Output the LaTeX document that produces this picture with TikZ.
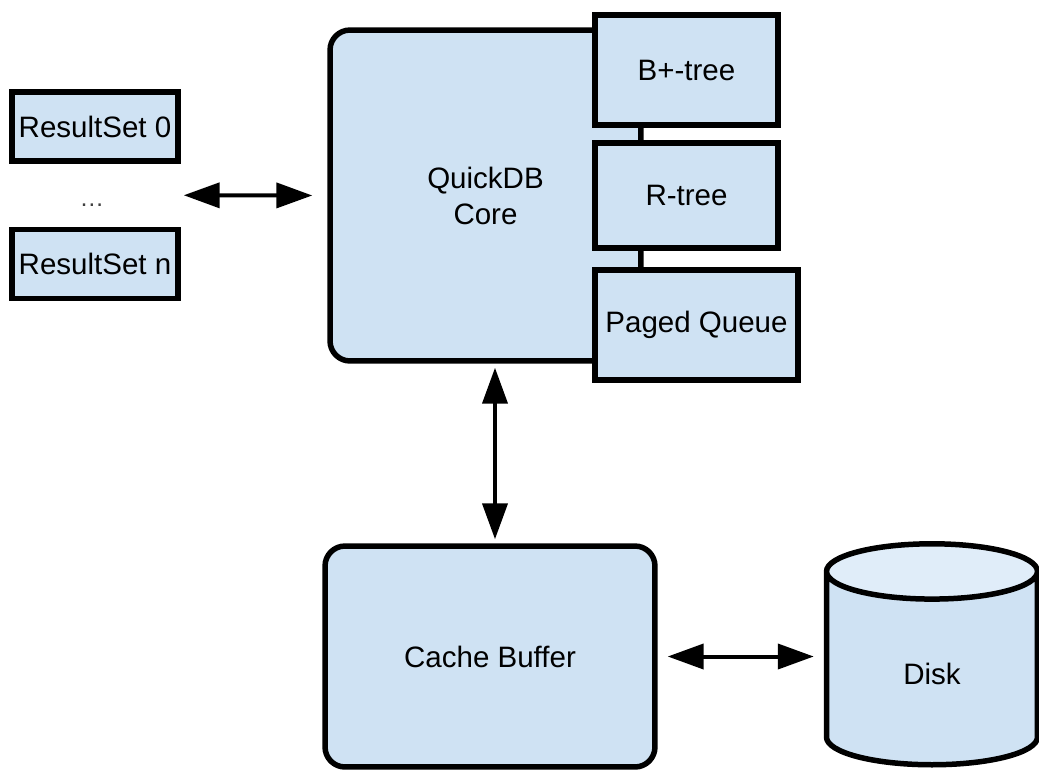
\documentclass[tikz,border=0pt]{standalone}
\usepackage{fontspec}
\setmainfont{Liberation Sans}
\usetikzlibrary{shapes.geometric,arrows.meta,calc}
\definecolor{boxblue}{RGB}{207,226,243}
\definecolor{diskend}{RGB}{224,237,249}

\begin{document}
\begin{tikzpicture}[x=0.02cm,y=-0.02cm,
				every node/.style={font=\fontsize{16.8}{20.5}\selectfont,align=center},
				box/.style={draw,line width=0.11cm,fill=boxblue,inner sep=0pt},
				roundbox/.style={box,rounded corners=0.4cm},
				disk/.style={cylinder,shape border rotate=90,aspect=0.8,draw,line width=0.11cm,
					cylinder uses custom fill,cylinder body fill=boxblue,cylinder end fill=diskend},
				biarrow/.style={line width=0.08cm,
					{Triangle[length=0.72cm,width=0.5cm]}-{Triangle[length=0.72cm,width=0.5cm]}}]
\useasboundingbox (0,0) rectangle (1039,769);
\node[box,minimum width=3.32cm,minimum height=1.38cm] (rs0) at (95,126.5) {ResultSet 0};
\node[font=\fontsize{14}{16}\selectfont,text=darkgray,anchor=base] (dots) at (92,206) {\dots};
\node[box,minimum width=3.32cm,minimum height=1.38cm] (rsn) at (95,264) {ResultSet n};
\node[roundbox,minimum width=6.22cm,minimum height=6.62cm] (core) at (485.5,195.5) {QuickDB\\Core};
\node[box,minimum width=3.66cm,minimum height=2.2cm] (bptree) at (686.5,70) {B+-tree};
\node[box,minimum width=3.66cm,minimum height=2.1cm] (rtree) at (686.5,195.5) {R-tree};
\node[box,minimum width=4.06cm,minimum height=2.2cm] (pqueue) at (696.5,325) {Paged Queue};
\node[roundbox,minimum width=6.6cm,minimum height=4.42cm] (cache) at (490,656.5) {Cache Buffer};
\node[disk,minimum width=4.22cm,minimum height=4.42cm] (disk) at (932,674) {Disk};
\coordinate (cachetop) at ([xshift=0.1cm]cache.north);
\draw[biarrow,shorten <=0.06cm,shorten >=0.3cm] ($(rs0.east)!0.5!(rsn.east)$) -- (core.west);
\draw[biarrow,shorten <=0.08cm,shorten >=0.08cm] (cachetop |- core.south) -- (cachetop);
\draw[biarrow,shorten <=0.2cm,shorten >=0.2cm] (cache.east) -- (cache.east -| disk.west);
\end{tikzpicture}
\end{document}
